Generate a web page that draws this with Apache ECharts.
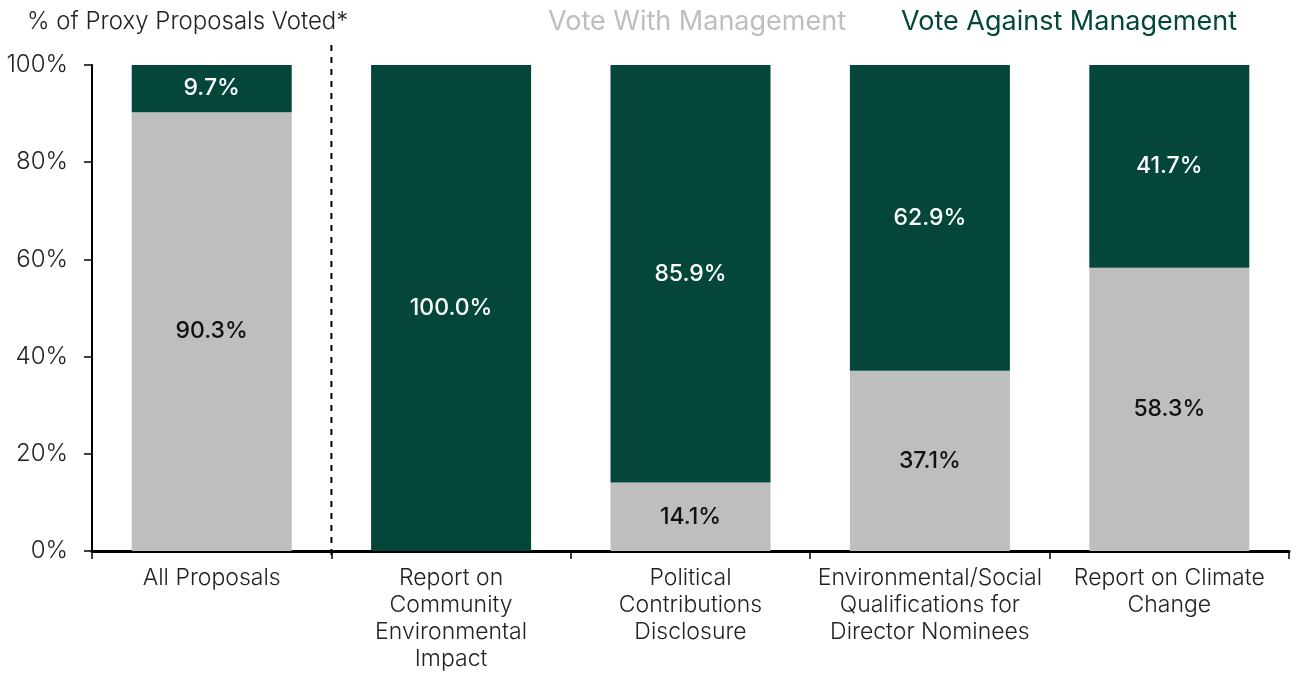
<!DOCTYPE html>
<html><head><meta charset="utf-8">
<script src="https://cdn.jsdelivr.net/npm/echarts@6/dist/echarts.min.js"></script>
<style>html,body{margin:0;padding:0;background:#fff}#c{width:1296px;height:675px}</style>
</head><body><div id="c"></div>
<script>
const categories = ["All Proposals", "Report on\nCommunity\nEnvironmental\nImpact", "Political\nContributions\nDisclosure", "Environmental/Social\nQualifications for\nDirector Nominees", "Report on Climate\nChange"];
const withMgmt = [90.3, 0, 14.1, 37.1, 58.3];
const againstMgmt = [9.7, 100.0, 85.9, 62.9, 41.7];
const yTicks = [0, 20, 40, 60, 80, 100];

const FONT = 'Inter';
const chart = echarts.init(document.getElementById('c'));
const option = {
  animation: false,
  textStyle: { fontFamily: FONT },
  grid: { left: 92, right: 7, top: 65, bottom: 124, containLabel: false },
  title: {
    text: '% of Proxy Proposals Voted*', left: 22, top: 5,
    textStyle: { fontFamily: FONT, fontSize: 24, fontWeight: 300, color: '#222' }
  },
  legend: {
    right: 54, top: 3, itemWidth: 0, itemHeight: 0, icon: 'none', itemGap: 50,
    textStyle: { fontFamily: FONT, fontSize: 27, fontWeight: 400 },
    data: [
      { name: 'Vote With Management', textStyle: { color: '#bdbebd' } },
      { name: 'Vote Against Management', textStyle: { color: '#04473a' } }
    ]
  },
  xAxis: {
    type: 'category', data: categories,
    axisLine: { lineStyle: { color: '#000', width: 3 } },
    axisTick: { show: true, length: 8, lineStyle: { color: '#000', width: 1.5 } },
    axisLabel: { fontFamily: FONT, fontSize: 23, fontWeight: 300, color: '#222', lineHeight: 27, margin: 14, interval: 0 }
  },
  yAxis: {
    type: 'value', min: 0, max: 100, interval: 20,
    axisLine: { show: true, lineStyle: { color: '#000', width: 2 } },
    axisTick: { show: true, length: 8, lineStyle: { color: '#000', width: 1.5 } },
    splitLine: { show: false },
    axisLabel: { fontFamily: FONT, fontSize: 24, fontWeight: 300, color: '#222', margin: 24,
      formatter: v => yTicks.includes(v) ? v + '%' : '' }
  },
  series: [
    {
      name: 'Vote With Management', type: 'bar', stack: 's', barWidth: 160,
      itemStyle: { color: '#bdbebd' }, data: withMgmt,
      label: { show: true, position: 'inside', fontFamily: FONT, fontSize: 23, fontWeight: 500, color: '#111',
        formatter: p => p.value > 0 ? p.value.toFixed(1) + '%' : '' }
    },
    {
      name: 'Vote Against Management', type: 'bar', stack: 's', barWidth: 160,
      itemStyle: { color: '#04473a' }, data: againstMgmt,
      label: { show: true, position: 'inside', fontFamily: FONT, fontSize: 23, fontWeight: 500, color: '#fff',
        formatter: p => p.value > 0 ? p.value.toFixed(1) + '%' : '' }
    }
  ]
};
chart.setOption(option);
const p0 = chart.convertToPixel({ xAxisIndex: 0 }, 0);
const p1 = chart.convertToPixel({ xAxisIndex: 0 }, 1);
const xSep = (p0 + p1) / 2;
const yBottom = chart.convertToPixel({ yAxisIndex: 0 }, 0);
const yTop = chart.convertToPixel({ yAxisIndex: 0 }, 100);
chart.setOption({
  graphic: [{
    type: 'line', z: 10,
    shape: { x1: xSep, y1: yTop - 20, x2: xSep, y2: yBottom + 8 },
    style: { stroke: '#000', lineWidth: 2, lineDash: [6, 6] }
  }]
});
</script></body></html>
